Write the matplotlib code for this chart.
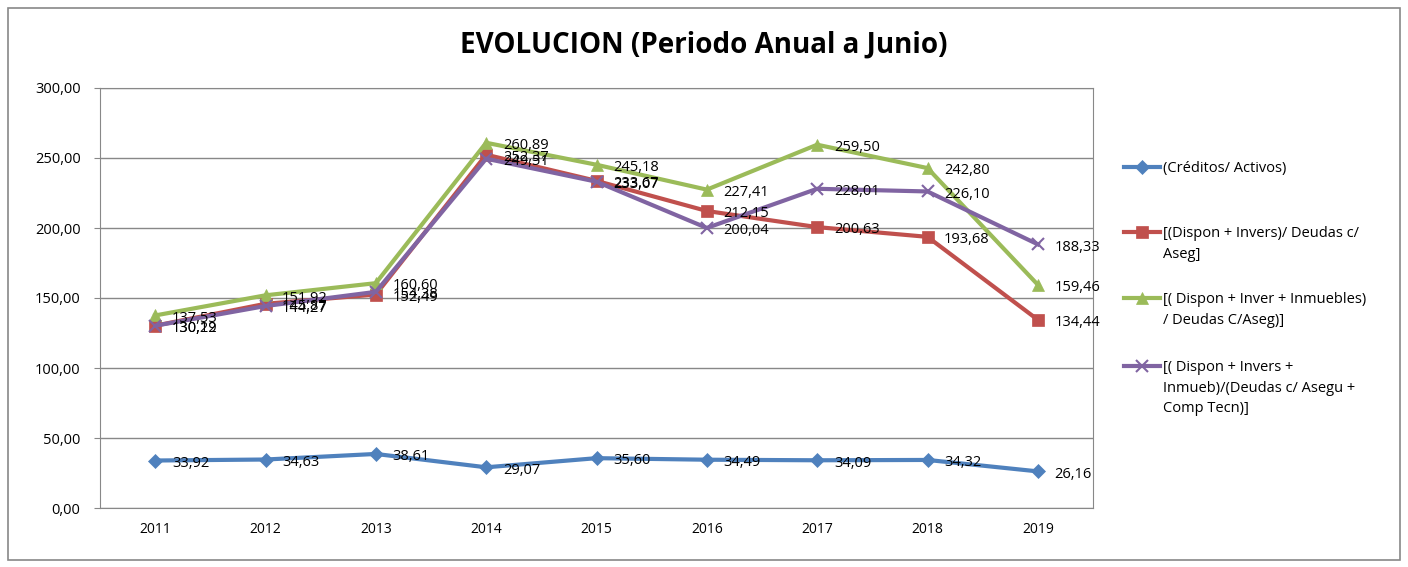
import matplotlib
matplotlib.use("Agg")
import matplotlib.pyplot as plt
from matplotlib.lines import Line2D
from matplotlib.patches import Rectangle

years = ["2011", "2012", "2013", "2014", "2015", "2016", "2017", "2018", "2019"]
creditos = [33.92, 34.63, 38.61, 29.07, 35.60, 34.49, 34.09, 34.32, 26.16]
dispon_invers = [130.22, 145.87, 152.49, 252.37, 233.67, 212.15, 200.63, 193.68, 134.44]
dispon_inmuebles = [137.53, 151.92, 160.60, 260.89, 245.18, 227.41, 259.50, 242.80, 159.46]
dispon_comp = [130.19, 144.27, 154.38, 249.51, 233.07, 200.04, 228.01, 226.10, 188.33]

names = ["(Créditos/ Activos)",
         "[(Dispon + Invers)/ Deudas c/\nAseg]",
         "[( Dispon + Inver + Inmuebles)\n/ Deudas C/Aseg)]",
         "[( Dispon + Invers +\nInmueb)/(Deudas c/ Asegu +\nComp Tecn)]"]
colors = ["#4F81BD", "#C0504D", "#9BBB59", "#8064A2"]
markers = ["D", "s", "^", "x"]
msizes = [7, 9, 9, 9]
yticks = [0, 50, 100, 150, 200, 250, 300]

plt.rcParams['font.family'] = ['Open Sans', 'DejaVu Sans']
fig = plt.figure(figsize=(14.08, 5.67), dpi=100)
W, H = 1408, 567
fig.add_artist(Rectangle((8 / W, 1 - 560 / H), 1392 / W, 552 / H, transform=fig.transFigure,
                         fill=False, edgecolor="#888888", lw=1.2))
ax = fig.add_axes([100 / W, 1 - 508 / H, 993 / W, 420 / H])

series = [creditos, dispon_invers, dispon_inmuebles, dispon_comp]
x = list(range(len(years)))
for s, c, m, ms in zip(series, colors, markers, msizes):
    ax.plot(x, s, color=c, lw=3, marker=m, markersize=ms, markeredgewidth=1.5 if m == "x" else 0.5,
            markeredgecolor=c, zorder=3)
for s in series:
    for xi, v in zip(x, s):
        ax.annotate(f"{v:.2f}".replace(".", ","), (xi, v), xytext=(12, -2), textcoords="offset points",
                    ha="left", va="center", fontsize=10.5, color="#000000", zorder=4)

ax.set_xlim(-0.5, 8.5)
ax.set_ylim(0, 300)
ax.set_xticks(x)
ax.set_xticklabels(years, fontsize=10)
ax.set_yticks(yticks)
ax.set_yticklabels([f"{v:.2f}".replace(".", ",") for v in yticks], fontsize=10.5)
ax.tick_params(axis="x", length=0, pad=10)
ax.tick_params(axis="y", length=4, color="#888888", pad=10)
ax.grid(axis="y", color="#888888", lw=1)
ax.set_axisbelow(True)
for sp in ax.spines.values():
    sp.set_color("#888888")

fig.text(704 / W, 1 - 45 / H, "EVOLUCION (Periodo Anual a Junio)", ha="center", va="center",
         fontsize=20, fontweight="bold")

# legend
leg_y = [167, 232, 298, 366]
for yy, name, c, m, ms in zip(leg_y, names, colors, markers, msizes):
    fig.add_artist(Line2D([1124 / W, 1142 / W, 1160 / W], [1 - yy / H] * 3, transform=fig.transFigure,
                          color=c, lw=3, marker=m, markersize=ms, markevery=[1],
                          markeredgewidth=1.5 if m == "x" else 0.5, markeredgecolor=c))
    fig.text(1163 / W, 1 - (yy - 6) / H, name, ha="left", va="top", fontsize=10.5,
             linespacing=1.5)

fig.savefig("out.png", dpi=100)
